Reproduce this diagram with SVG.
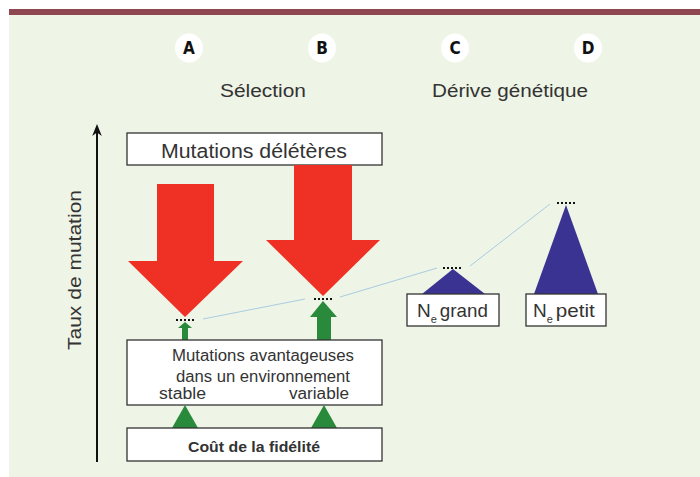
<svg xmlns="http://www.w3.org/2000/svg" width="700" height="477" viewBox="0 0 700 477">
<defs>
<style>
.bg{fill:#EEF4E6}
.box{fill:#fff;stroke:#333;stroke-width:1.3}
.red{fill:#EE3124}
.grn{fill:#2A8A3B}
.blu{fill:#3B3391}
.dots{stroke:#111;stroke-width:2;stroke-dasharray:2 2;fill:none}
.link{stroke:#A9CCE0;stroke-width:1;fill:none}
.t{font-family:"Liberation Sans",Arial,sans-serif;fill:#333}
.lbl{font-family:"DejaVu Sans Condensed","Liberation Sans",sans-serif;font-weight:bold;font-size:17px;fill:#111;text-anchor:middle}
</style>
<marker id="ah" viewBox="0 0 10 10" refX="5" refY="5" markerWidth="6" markerHeight="6" orient="auto"><path d="M0,1 L10,5 L0,9 L3,5 z" fill="#111"/></marker>
</defs>
<rect x="0" y="0" width="700" height="477" fill="#fff"/>
<rect class="bg" x="9" y="12" width="691" height="465"/>
<rect x="9" y="9" width="691" height="6" fill="#8E4651"/>

<g id="headers">
<ellipse cx="189" cy="48" rx="14" ry="14.5" fill="#fff"/>
<text class="lbl" x="189" y="54">A</text>
<ellipse cx="322" cy="48" rx="14" ry="14.5" fill="#fff"/>
<text class="lbl" x="322" y="54">B</text>
<ellipse cx="455" cy="48" rx="14" ry="14.5" fill="#fff"/>
<text class="lbl" x="455" y="54">C</text>
<ellipse cx="588" cy="48" rx="14" ry="14.5" fill="#fff"/>
<text class="lbl" x="588" y="54">D</text>
<text class="t" x="263" y="97" font-size="18" text-anchor="middle" textLength="86" lengthAdjust="spacingAndGlyphs">Sélection</text>
<text class="t" x="510" y="97" font-size="18" text-anchor="middle" textLength="156" lengthAdjust="spacingAndGlyphs">Dérive génétique</text>
</g>

<g id="axis">
<line x1="97" y1="462" x2="97" y2="130" stroke="#111" stroke-width="2" marker-end="url(#ah)"/>
<text class="t" transform="translate(81,270) rotate(-90)" font-size="19" text-anchor="middle" textLength="160" lengthAdjust="spacingAndGlyphs">Taux de mutation</text>
</g>

<g id="connectors">
<polyline class="link" points="203,319 305,299"/>
<polyline class="link" points="340,297 437,268"/>
<polyline class="link" points="470,266 550,204"/>
</g>

<g id="node-deleteres">
<rect class="box" x="127" y="133" width="255" height="32"/>
<text class="t" x="254" y="158" font-size="20" text-anchor="middle" textLength="186" lengthAdjust="spacingAndGlyphs">Mutations délétères</text>
</g>

<g id="arrow-red-A">
<polygon class="red" points="157,184 214,184 214,261 243,261 185,317 128,261 157,261"/>
<line class="dots" x1="176" y1="320" x2="196" y2="320"/>
</g>
<g id="arrow-red-B">
<polygon class="red" points="294,165 352,165 352,240 380,240 323,296 266,240 294,240"/>
<line class="dots" x1="314" y1="299" x2="334" y2="299"/>
</g>

<g id="arrow-green-A">
<polygon class="grn" points="185,322 192,328 188,328 188,340 182,340 182,328 178,328"/>
</g>
<g id="arrow-green-B">
<polygon class="grn" points="323,301 337,317 331,317 331,340 317,340 317,317 310,317"/>
</g>

<g id="node-avantageuses">
<rect class="box" x="127" y="340" width="255" height="65"/>
<text class="t" x="263" y="361" font-size="16" text-anchor="middle" textLength="182" lengthAdjust="spacingAndGlyphs">Mutations avantageuses</text>
<text class="t" x="263" y="382" font-size="16" text-anchor="middle" textLength="174" lengthAdjust="spacingAndGlyphs">dans un environnement</text>
<text class="t" x="159" y="399" font-size="16" textLength="47" lengthAdjust="spacingAndGlyphs">stable</text>
<text class="t" x="289" y="399" font-size="16" textLength="60" lengthAdjust="spacingAndGlyphs">variable</text>
</g>

<g id="tri-green-A"><polygon class="grn" points="185,405 198,428 172,428"/></g>
<g id="tri-green-B"><polygon class="grn" points="324,405 337,428 311,428"/></g>

<g id="node-cout">
<rect class="box" x="127" y="428" width="255" height="33"/>
<text class="t" x="254" y="452" font-size="15" font-weight="bold" text-anchor="middle" textLength="132" lengthAdjust="spacingAndGlyphs">Coût de la fidélité</text>
</g>

<g id="tri-C">
<polygon class="blu" points="453,269 485,294 422,294"/>
<line class="dots" x1="443" y1="268" x2="463" y2="268"/>
</g>
<g id="tri-D">
<polygon class="blu" points="566,205 598,294 534,294"/>
<line class="dots" x1="557" y1="203" x2="577" y2="203"/>
</g>

<g id="node-ne-grand">
<rect class="box" x="407" y="294" width="92" height="32"/>
<text class="t" x="417" y="317" font-size="19">N<tspan font-size="11" dy="6">e</tspan><tspan dy="-6" dx="3" textLength="48" lengthAdjust="spacingAndGlyphs">grand</tspan></text>
</g>
<g id="node-ne-petit">
<rect class="box" x="526" y="294" width="80" height="32"/>
<text class="t" x="533" y="317" font-size="19">N<tspan font-size="11" dy="6">e</tspan><tspan dy="-6" dx="3" textLength="39" lengthAdjust="spacingAndGlyphs">petit</tspan></text>
</g>
</svg>
